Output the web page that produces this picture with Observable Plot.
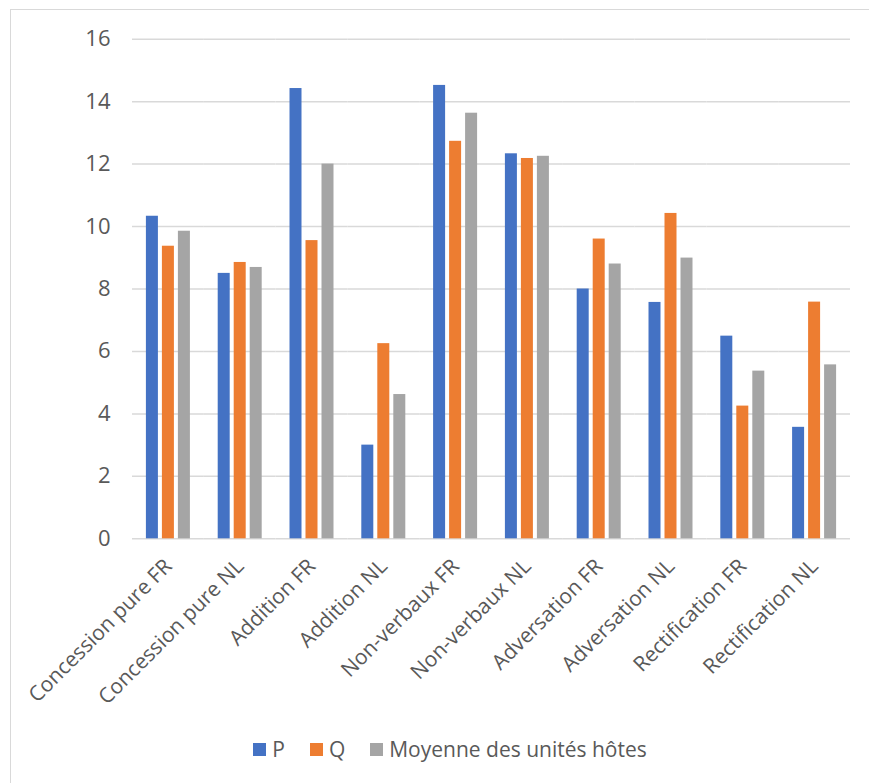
<!DOCTYPE html>
<html lang="fr">
<head>
<meta charset="utf-8">
<script src="https://cdn.jsdelivr.net/npm/d3@7"></script>
<script src="https://cdn.jsdelivr.net/npm/@observablehq/plot@0.6"></script>
<style>
  html, body { margin: 0; padding: 0; background: #fff; overflow: hidden; }
  #page { position: relative; width: 869px; height: 783px; overflow: hidden; font-family: "Open Sans", sans-serif; }
  #frame { position: absolute; left: 10px; top: 9px; width: 880px; height: 800px; border: 1px solid #d9d9d9; box-sizing: border-box; }
  #chart { position: absolute; left: 0; top: 0; }
  #legend { position: absolute; left: 10px; width: 880px; top: 735px; display: flex; justify-content: center; align-items: center; gap: 25px; color: #595959; font-size: 21px; }
  .item { display: flex; align-items: center; gap: 6px; }
  .swatch { width: 13px; height: 13px; display: inline-block; }
</style>
</head>
<body>
<div id="page">
  <div id="frame"></div>
  <div id="chart"></div>
  <div id="legend"></div>
</div>
<script>
// Categories and series
const categories = [
  "Concession pure FR", "Concession pure NL", "Addition FR", "Addition NL",
  "Non-verbaux FR", "Non-verbaux NL", "Adversation FR", "Adversation NL",
  "Rectification FR", "Rectification NL"
];
const series = ["P", "Q", "Moyenne des unités hôtes"];
const pValues    = [10.33, 8.50, 14.42, 3.00, 14.52, 12.33, 8.00, 7.57, 6.49, 3.57];
const qValues    = [9.37, 8.85, 9.55, 6.25, 12.73, 12.18, 9.60, 10.42, 4.25, 7.58];
const meanValues = [9.85, 8.69, 12.00, 4.62, 13.63, 12.25, 8.80, 8.99, 5.37, 5.57];
const yTicks = [0, 2, 4, 6, 8, 10, 12, 14, 16];
const colors = ["#4472C4", "#ED7D31", "#A5A5A5"];

const valueLists = [pValues, qValues, meanValues];
const rows = categories.flatMap((category, i) =>
  series.map((s, j) => ({category, series: s, value: valueLists[j][i]}))
);

const chart = Plot.plot({
  width: 869,
  height: 700,
  marginLeft: 132,
  marginRight: 19,
  marginTop: 38.7,
  marginBottom: 161.7,
  style: {fontFamily: "'Open Sans', sans-serif", fontSize: "21px", color: "#595959", background: "transparent", overflow: "visible"},
  fx: {domain: categories, padding: 0, round: false, label: null},
  x: {domain: series, paddingInner: 0.25, paddingOuter: 0.869, round: false, axis: null},
  y: {domain: [0, 16], label: null},
  color: {domain: series, range: colors},
  marks: [
    Plot.ruleY(yTicks, {stroke: "#d9d9d9", strokeWidth: 1.5}),
    Plot.barY(rows, {fx: "category", x: "series", y: "value", fill: "series"}),
    Plot.axisY({ticks: yTicks, tickSize: 0, tickPadding: 22, fontSize: 22, fill: "#595959", label: null}),
    Plot.axisFx({anchor: "bottom", tickRotate: -45, tickSize: 0, tickPadding: 24, dx: 0, fontSize: 21, fill: "#595959", label: null})
  ]
});
document.getElementById("chart").appendChild(chart);

// Legend below the chart
const legend = document.getElementById("legend");
series.forEach((s, i) => {
  const item = document.createElement("div");
  item.className = "item";
  const sw = document.createElement("span");
  sw.className = "swatch";
  sw.style.background = colors[i];
  const label = document.createElement("span");
  label.textContent = s;
  item.append(sw, label);
  legend.appendChild(item);
});
</script>
</body>
</html>
